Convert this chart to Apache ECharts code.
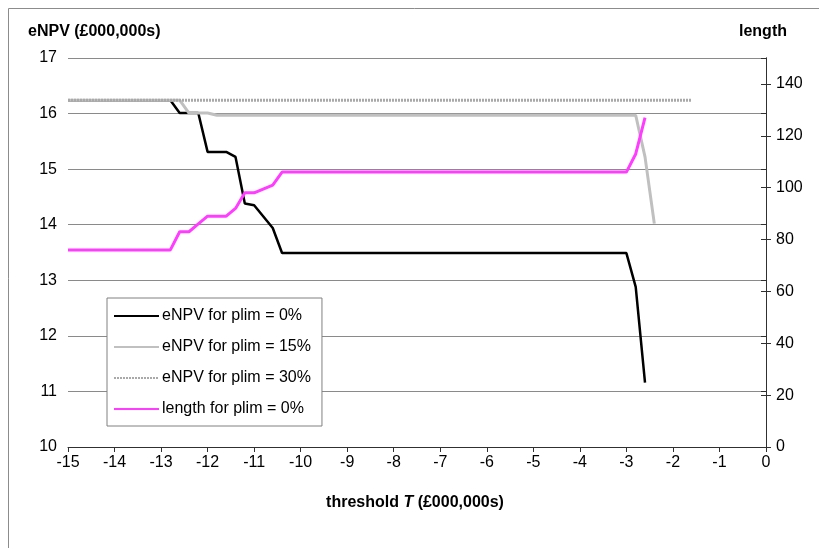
<!DOCTYPE html>
<html>
<head>
<meta charset="utf-8">
<script src="https://cdn.jsdelivr.net/npm/echarts@6/dist/echarts.min.js"></script>
<style>
html,body{margin:0;padding:0;background:#fff;}
#chart{width:819px;height:548px;}
</style>
</head>
<body>
<div id="chart"></div>
<script>
// ---- data ----
const seriesNames = ['eNPV for plim = 0%', 'eNPV for plim = 15%', 'eNPV for plim = 30%', 'length for plim = 0%'];

const T_P0 = [-15, -12.8, -12.6, -12.2, -12.0, -11.6, -11.4, -11.2, -11.0, -10.6, -10.4, -3.0, -2.8, -2.6];
const ENPV_P0 = [16.24, 16.24, 16.01, 16.01, 15.31, 15.31, 15.22, 14.38, 14.35, 13.94, 13.49, 13.49, 12.88, 11.16];

const T_P15 = [-15, -12.6, -12.4, -12.0, -11.8, -2.8, -2.6, -2.4];
const ENPV_P15 = [16.24, 16.24, 16.01, 16.01, 15.97, 15.97, 15.22, 14.02];

const T_P30 = [-15, -1.6];
const ENPV_P30 = [16.24, 16.24];

const T_LEN = [-15, -12.8, -12.6, -12.4, -12.2, -12.0, -11.6, -11.4, -11.2, -11.0, -10.6, -10.4, -3.0, -2.8, -2.6];
const LEN_P0 = [76, 76, 83, 83, 86, 89, 89, 92, 98, 98, 101, 106, 106, 113, 127];

const xTicks = [-15, -14, -13, -12, -11, -10, -9, -8, -7, -6, -5, -4, -3, -2, -1, 0];
const leftTicks = [10, 11, 12, 13, 14, 15, 16, 17];
const rightTicks = [0, 20, 40, 60, 80, 100, 120, 140];

function pairs(xs, ys) { return xs.map((x, i) => [x, ys[i]]); }

const FONT = '"Liberation Sans", Arial, sans-serif';
const chart = echarts.init(document.getElementById('chart'), null, {renderer: 'canvas'});

chart.setOption({
  animation: false,
  backgroundColor: '#fff',
  grid: {left: 68, right: 53, top: 58, bottom: 101, containLabel: false},
  xAxis: {
    type: 'value', min: -15, max: 0, interval: 1,
    axisLine: {show: true, onZero: false, lineStyle: {color: '#303030', width: 1}},
    axisTick: {show: true, inside: false, length: 5, lineStyle: {color: '#303030'}},
    axisLabel: {color: '#000', fontSize: 16, fontFamily: FONT, margin: 8,
      customValues: xTicks},
    splitLine: {show: false}
  },
  yAxis: [
    {
      type: 'value', min: 10, max: 17, interval: 1, position: 'left',
      axisLine: {show: true, lineStyle: {color: '#303030', width: 1}},
      axisTick: {show: true, inside: false, length: 5, lineStyle: {color: '#303030'}},
      axisLabel: {color: '#000', fontSize: 16, fontFamily: FONT, margin: 11, customValues: leftTicks},
      splitLine: {show: true, lineStyle: {color: '#8a8a8a', width: 1}}
    },
    {
      type: 'value', min: 0, max: 150, interval: 20, position: 'right',
      axisLine: {show: true, lineStyle: {color: '#303030', width: 1}},
      axisTick: {show: true, inside: false, length: 5, lineStyle: {color: '#303030'}, customValues: rightTicks},
      axisLabel: {color: '#000', fontSize: 16, fontFamily: FONT, margin: 10, customValues: rightTicks},
      splitLine: {show: false}
    },
    {
      type: 'value', min: 0, max: 150, interval: 20, position: 'right',
      axisLine: {show: false},
      axisTick: {show: true, inside: true, length: 5, lineStyle: {color: '#303030'}, customValues: rightTicks},
      axisLabel: {show: false},
      splitLine: {show: false}
    }
  ],
  legend: {
    orient: 'vertical', left: 107, top: 298,
    data: seriesNames,
    itemWidth: 45, itemHeight: 14, itemGap: 15,
    itemStyle: {opacity: 0},
    padding: [10, 11, 9, 6],
    borderColor: '#808080', borderWidth: 1, backgroundColor: '#fff',
    textStyle: {color: '#000', fontSize: 16, fontFamily: FONT, padding: [0, 0, 0, -2]}
  },
  graphic: [
    {type: 'rect', silent: true, z: -10, shape: {x: 8.5, y: 8.5, width: 900, height: 700},
      style: {fill: 'none', stroke: '#8c8c8c', lineWidth: 1}},
    {type: 'text', left: 28, top: 24, style: {text: 'eNPV (£000,000s)', font: 'bold 16px ' + FONT, fill: '#000'}},
    {type: 'text', left: 739, top: 24, style: {text: 'length', font: 'bold 16px ' + FONT, fill: '#000'}},
    {type: 'text', x: 415, y: 503, style: {
      text: '{b|threshold }{i|T}{b| (£000,000s)}', align: 'center', verticalAlign: 'middle',
      rich: {
        b: {font: 'bold 16px ' + FONT, fill: '#000'},
        i: {font: 'italic bold 16px ' + FONT, fill: '#000'}
      }
    }}
  ],
  series: [
    {name: seriesNames[0], type: 'line', yAxisIndex: 0, data: pairs(T_P0, ENPV_P0),
      symbol: 'none', lineStyle: {color: '#000', width: 2.5}, itemStyle: {color: '#000'}, z: 3},
    {name: seriesNames[1], type: 'line', yAxisIndex: 0, data: pairs(T_P15, ENPV_P15),
      symbol: 'none', lineStyle: {color: '#c0c0c0', width: 3}, itemStyle: {color: '#c0c0c0'}, z: 4},
    {name: seriesNames[2], type: 'line', yAxisIndex: 0, data: pairs(T_P30, ENPV_P30),
      symbol: 'none', lineStyle: {color: '#a9a9a9', width: 3, type: [2, 1]}, itemStyle: {color: '#a9a9a9'}, z: 5},
    {name: seriesNames[3], type: 'line', yAxisIndex: 1, data: pairs(T_LEN, LEN_P0),
      symbol: 'none', lineStyle: {color: '#ff3cff', width: 3}, itemStyle: {color: '#ff3cff'}, z: 6}
  ]
});
</script>
</body>
</html>
